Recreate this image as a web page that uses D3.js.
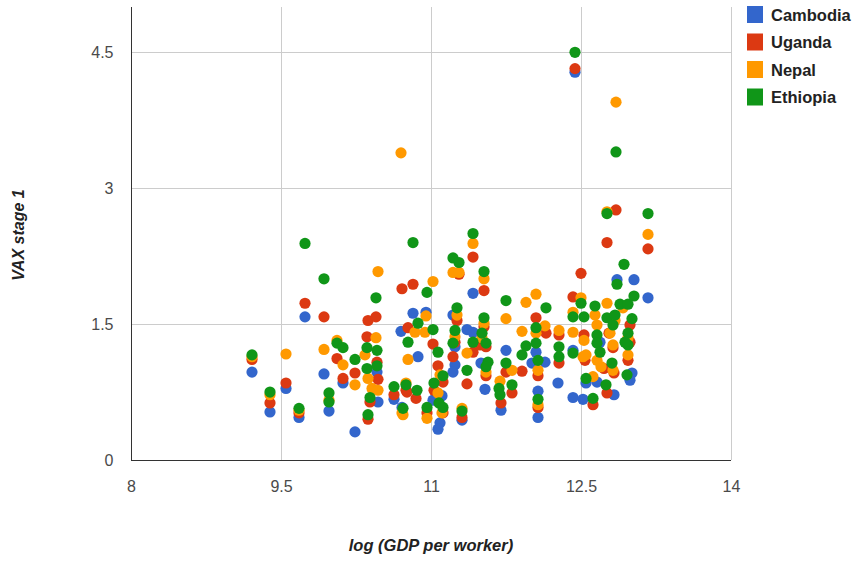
<!DOCTYPE html>
<html><head><meta charset="utf-8">
<script src="https://cdn.jsdelivr.net/npm/d3@7"></script>
<style>body{margin:0;background:#fff}svg{display:block}</style>
</head><body>
<svg id="c" width="855" height="562"></svg>
<script>
const seriesNames = ["Cambodia","Uganda","Nepal","Ethiopia"];
const seriesColors = ["#3366cc","#dc3912","#ff9900","#109618"];
const xTicks = [8, 9.5, 11, 12.5, 14];
const yTicks = [0, 1.5, 3, 4.5];
const xTitle = "log (GDP per worker)";
const yTitle = "VAX stage 1";

const cambodia = [[9.21,0.97],[9.39,0.53],[9.55,0.79],[9.68,0.47],[9.74,1.58],[9.93,0.95],[9.98,0.54],[10.12,0.85],[10.24,0.31],[10.46,0.97],[10.47,0.64],[10.63,0.67],[10.71,0.58],[10.82,1.62],[10.70,1.42],[10.95,1.63],[10.87,1.14],[11.11,0.71],[11.09,0.41],[11.07,0.34],[11.02,0.66],[11.22,1.60],[11.42,1.84],[11.36,1.44],[11.42,1.41],[11.24,1.25],[11.24,1.05],[11.22,0.97],[11.31,0.44],[11.50,1.07],[11.54,0.78],[11.70,0.55],[11.75,1.21],[12.01,1.07],[12.07,0.76],[12.07,0.47],[12.05,1.19],[12.14,1.08],[12.27,0.85],[12.42,1.21],[12.42,0.69],[12.44,4.28],[12.52,0.67],[12.55,0.85],[12.69,1.30],[12.66,0.86],[12.83,0.72],[12.86,1.99],[12.99,0.88],[13.01,0.96],[13.03,1.99],[13.17,1.79]];

const uganda = [[9.21,1.11],[9.39,0.63],[9.55,0.85],[9.68,0.52],[9.74,1.73],[9.93,1.58],[10.06,1.12],[10.12,0.90],[10.24,0.96],[10.37,1.54],[10.45,1.58],[10.36,1.36],[10.46,1.08],[10.47,0.89],[10.39,0.64],[10.37,0.45],[10.63,0.72],[10.75,0.77],[10.77,1.46],[10.71,1.89],[10.82,1.94],[10.85,0.68],[10.76,0.75],[11.02,1.28],[11.07,1.04],[11.03,0.77],[11.12,0.86],[11.12,0.52],[10.96,0.52],[11.42,2.24],[11.28,2.05],[11.53,1.87],[11.26,1.54],[11.53,1.47],[11.24,1.30],[11.22,1.14],[11.42,1.19],[11.55,1.25],[11.55,0.93],[11.36,0.84],[11.31,0.47],[11.49,1.27],[11.70,0.63],[11.75,0.97],[11.81,0.74],[11.91,0.98],[12.05,1.57],[12.15,1.40],[12.07,0.93],[12.07,0.58],[12.28,1.38],[12.28,1.07],[12.42,1.80],[12.44,4.32],[12.50,2.06],[12.53,1.38],[12.54,1.10],[12.62,0.61],[12.73,1.01],[12.76,0.74],[12.76,2.40],[12.78,1.40],[12.82,1.24],[12.83,0.96],[12.85,2.76],[12.97,1.10],[12.99,1.49],[12.99,1.30],[13.17,2.33]];

const nepal = [[9.21,1.14],[9.39,0.72],[9.55,1.17],[9.68,0.55],[9.93,1.22],[9.98,0.66],[10.06,1.32],[10.12,1.05],[10.24,0.83],[10.34,1.16],[10.37,0.90],[10.41,0.79],[10.45,1.35],[10.47,0.77],[10.47,2.08],[10.72,0.50],[10.75,0.85],[10.77,1.11],[10.84,1.41],[10.94,1.41],[10.95,1.59],[10.96,0.46],[11.02,1.97],[11.07,0.74],[11.09,0.94],[11.11,0.52],[11.22,2.07],[11.28,2.07],[11.42,2.39],[11.53,2.00],[11.26,1.60],[11.53,1.51],[11.24,1.36],[11.51,1.35],[11.36,1.18],[11.55,0.97],[11.31,0.57],[11.69,0.87],[11.75,1.56],[11.81,0.99],[11.91,1.42],[11.95,1.74],[12.05,1.83],[12.05,1.40],[12.14,1.48],[12.07,0.99],[12.07,0.61],[12.28,1.43],[12.42,1.63],[12.42,1.41],[12.50,1.79],[12.53,1.32],[12.55,1.16],[12.62,0.92],[12.64,1.60],[12.66,1.49],[12.70,1.03],[12.66,1.10],[12.76,1.73],[12.76,2.74],[12.79,1.40],[12.82,1.27],[12.84,1.54],[12.82,0.99],[12.85,3.95],[12.92,1.68],[12.97,1.35],[12.97,1.16],[13.17,2.49],[12.52,1.14],[10.71,0.52],[10.70,3.39]];

const ethiopia = [[9.21,1.16],[9.39,0.75],[9.68,0.57],[9.74,2.39],[9.93,2.00],[9.98,0.74],[9.98,0.64],[10.06,1.29],[10.12,1.24],[10.24,1.11],[10.36,1.24],[10.46,1.21],[10.36,1.01],[10.46,1.04],[10.39,0.69],[10.37,0.50],[10.45,1.79],[10.63,0.81],[10.75,0.83],[10.72,0.57],[10.77,1.30],[10.82,2.40],[10.87,1.51],[10.86,0.77],[10.96,1.85],[10.96,0.58],[11.02,1.44],[11.07,1.19],[11.12,0.93],[11.03,0.85],[11.08,0.63],[11.12,0.58],[11.22,2.23],[11.28,2.18],[11.42,2.50],[11.53,2.08],[11.26,1.68],[11.53,1.57],[11.24,1.43],[11.51,1.40],[11.22,1.29],[11.42,1.30],[11.55,1.29],[11.57,1.08],[11.55,1.03],[11.36,0.99],[11.31,0.54],[11.68,0.79],[11.69,0.72],[11.75,1.76],[11.75,1.07],[11.81,0.83],[11.91,1.16],[11.95,1.26],[12.05,1.46],[12.05,1.29],[12.07,1.10],[12.07,0.67],[12.15,1.68],[12.28,1.25],[12.28,1.14],[12.42,1.58],[12.42,1.18],[12.44,4.50],[12.50,1.73],[12.53,1.58],[12.55,0.90],[12.62,0.68],[12.64,1.70],[12.66,1.38],[12.66,1.29],[12.69,1.19],[12.76,1.57],[12.76,2.72],[12.75,0.83],[12.82,1.49],[12.81,1.07],[12.84,1.60],[12.85,3.40],[12.86,1.94],[12.89,1.72],[12.93,2.16],[12.97,1.72],[12.97,1.40],[12.97,1.27],[12.96,0.94],[13.01,1.56],[13.03,1.81],[13.17,2.72],[12.94,1.30]];

const seriesData = [cambodia, uganda, nepal, ethiopia];

const svg = d3.select("#c");
const font = "'Liberation Sans', Arial, sans-serif";
const L = 131, R = 731, T = 7, B = 460;
const x = d3.scaleLinear().domain([8, 14]).range([L, R]);
const y = d3.scaleLinear().domain([0, 5]).range([B, T]);

// gridlines
const g = svg.append("g");
g.selectAll("line.gx").data(xTicks.filter(d => d > 8)).enter().append("line")
  .attr("x1", d => Math.round(x(d)) + 0.5).attr("x2", d => Math.round(x(d)) + 0.5)
  .attr("y1", T).attr("y2", B).attr("stroke", "#cccccc").attr("stroke-width", 1);
g.selectAll("line.gy").data(yTicks.filter(d => d > 0)).enter().append("line")
  .attr("x1", L).attr("x2", R)
  .attr("y1", d => Math.round(y(d)) + 0.5).attr("y2", d => Math.round(y(d)) + 0.5)
  .attr("stroke", "#cccccc").attr("stroke-width", 1);

// axes
const xAxis = d3.axisBottom(x).tickValues(xTicks).tickSize(0).tickPadding(20).tickFormat(d => String(d));
const yAxis = d3.axisLeft(y).tickValues(yTicks).tickSize(0).tickPadding(18).tickFormat(d => String(d));
const gx = svg.append("g").attr("transform", `translate(0,${B + 0.5})`).call(xAxis);
const gy = svg.append("g").attr("transform", `translate(${L + 0.5},0)`).call(yAxis);
[gx, gy].forEach(a => {
  a.select(".domain").remove();
  a.selectAll("text").attr("font-family", font).attr("font-size", 16).attr("fill", "#4a4a4a");
});
svg.append("line").attr("x1", L + 0.5).attr("x2", L + 0.5).attr("y1", T).attr("y2", B + 1).attr("stroke", "#333");
svg.append("line").attr("x1", L).attr("x2", R).attr("y1", B + 0.5).attr("y2", B + 0.5).attr("stroke", "#333");

// points
seriesData.forEach((data, i) => {
  svg.append("g").selectAll("circle").data(data).enter().append("circle")
    .attr("cx", d => x(d[0])).attr("cy", d => y(d[1])).attr("r", 5.6)
    .attr("fill", seriesColors[i]);
});

// titles
svg.append("text").attr("x", 431).attr("y", 551).attr("text-anchor", "middle")
  .attr("font-family", font).attr("font-size", 16.5).attr("font-weight", "bold").attr("font-style", "italic")
  .attr("fill", "#222").text(xTitle);
svg.append("text").attr("transform", "translate(24,235) rotate(-90)").attr("text-anchor", "middle")
  .attr("font-family", font).attr("font-size", 16).attr("font-weight", "bold").attr("font-style", "italic")
  .attr("fill", "#222").text(yTitle);

// legend
const lg = svg.append("g").selectAll("g").data(seriesNames).enter().append("g")
  .attr("transform", (d, i) => `translate(747,${6 + i * 27.5})`);
lg.append("rect").attr("width", 16).attr("height", 17).attr("fill", (d, i) => seriesColors[i]);
lg.append("text").attr("x", 24).attr("y", 14.5).attr("font-family", font).attr("font-size", 16.5)
  .attr("font-weight", "bold").attr("fill", "#222").text(d => d);
</script>
</body></html>
